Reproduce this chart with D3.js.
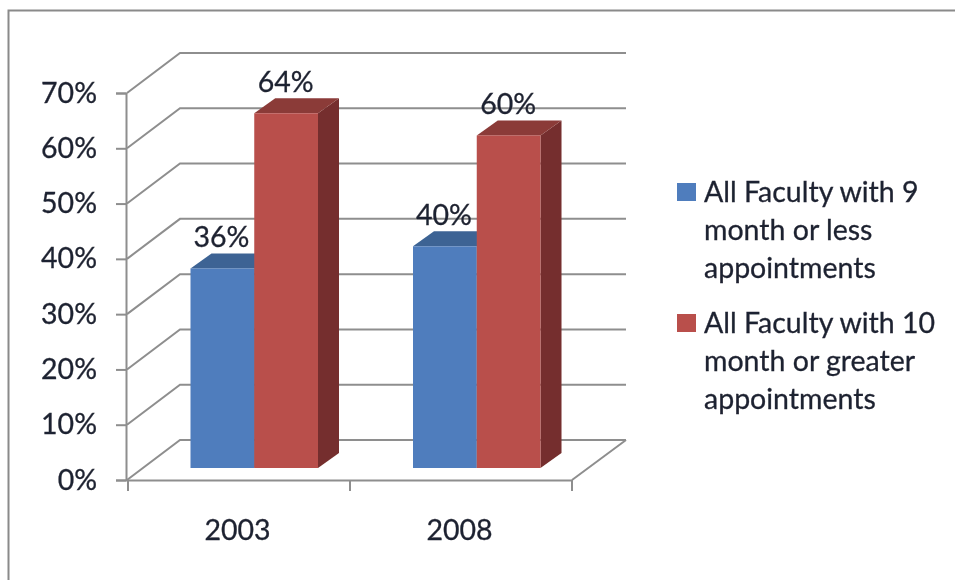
<!DOCTYPE html>
<html>
<head>
<meta charset="utf-8">
<script src="https://cdn.jsdelivr.net/npm/d3@7/dist/d3.min.js"></script>
<style>
html,body{margin:0;padding:0;background:#fff;}
svg{display:block;}
text{font-family:Lato,"Open Sans",sans-serif;fill:#1f2230;stroke:#1f2230;stroke-width:0.3px;}
</style>
</head>
<body>
<div id="chart"></div>
<script>
const categories = ["2003","2008"];
const seriesNames = ["All Faculty with 9 month or less appointments","All Faculty with 10 month or greater appointments"];
const series9Month = [36,40];
const series10Month = [64,60];
const yTicks = [0,10,20,30,40,50,60,70];
const legendLines = [["All Faculty with 9","month or less","appointments"],["All Faculty with 10","month or greater","appointments"]];

const frontColors = ["#4f7dbd","#b9504c"];
const topColors = ["#3d6494","#8b3b38"];
const sideColors = ["#34557f","#752f2d"];
const gridColor = "#8e8e8e";
const fontSize = 28.5;
const depth = {dx:53,dy:-40};      // wall depth
const barDepth = {dx:21,dy:-15};   // bar depth

const svg = d3.select("#chart").append("svg").attr("width",955).attr("height",580);
svg.append("defs").append("filter").attr("id","soft")
  .attr("x",0).attr("y",0).attr("width",1).attr("height",1)
  .attr("filterUnits","userSpaceOnUse").attr("width",955).attr("height",580)
  .append("feGaussianBlur").attr("stdDeviation",0.55);
const root = svg.append("g").attr("filter","url(#soft)");

// frame
root.append("path").attr("d","M8.5,580V10.5H955").attr("fill","none").attr("stroke","#8a8a8a").attr("stroke-width",2);

const axisY = d3.scaleLinear().domain([0,70]).range([480,93]);
const barY = d3.scaleLinear().domain([0,70]).range([468,80]);
const axisX = d3.scaleBand().domain(categories).range([128,572]);
const barX = d3.scaleBand().domain(categories).range([129,574]).paddingInner(0).paddingOuter(0);
const groupWidth = 127.5;
const inner = d3.scaleBand().domain([0,1]).range([0,groupWidth]);
const barLeft = c => barX(c)+barX.bandwidth()/2-groupWidth/2+14;

// walls and gridlines
const grid = root.append("g").attr("fill","none").attr("stroke",gridColor).attr("stroke-width",2);
grid.selectAll(".wall").data(yTicks).join("path").attr("class","wall")
  .attr("d",t=>`M127,${axisY(t)}L${127+depth.dx},${axisY(t)+depth.dy}H626`);
grid.append("path").attr("d",`M572,480L626,440`);

// y axis
const gy = root.append("g").attr("transform","translate(126,0)")
  .call(d3.axisLeft(axisY).tickValues(yTicks).tickSize(10).tickPadding(19).tickFormat(d=>d+"%"));
gy.select(".domain").attr("stroke",gridColor).attr("stroke-width",2);
gy.selectAll(".tick line").attr("stroke",gridColor).attr("stroke-width",2);
gy.selectAll("text").attr("font-size",fontSize).style("font-family","Lato").attr("fill","#1f2230").attr("dy","0.32em");

// x axis
const gx = root.append("g").attr("transform","translate(0,480)")
  .call(d3.axisBottom(axisX).tickValues([]).tickSizeOuter(0));
gx.select(".domain").attr("stroke",gridColor).attr("stroke-width",2);
const edges = [...categories.map(c=>axisX(c)),axisX.range()[1]];
gx.selectAll(".edge").data(edges).join("line").attr("class","edge")
  .attr("x1",d=>d).attr("x2",d=>d).attr("y1",0).attr("y2",11)
  .attr("stroke",gridColor).attr("stroke-width",2);
gx.selectAll(".cat").data(categories).join("text").attr("class","cat")
  .attr("x",c=>axisX(c)+axisX.bandwidth()/2-1.5).attr("y",60).attr("text-anchor","middle")
  .attr("font-size",fontSize).text(d=>d);

// bars
const allSeries = [series9Month,series10Month];
allSeries.forEach((vals,s)=>{
  const g = root.append("g").attr("class","series"+s);
  categories.forEach((c,i)=>{
    const x0 = barLeft(c)+inner(s), x1 = x0+inner.bandwidth();
    const y0 = barY(0), y1 = barY(vals[i]);
    const {dx,dy} = barDepth;
    g.append("path").attr("fill",sideColors[s])
      .attr("d",`M${x1},${y0}L${x1+dx},${y0+dy}V${y1+dy}L${x1},${y1}Z`);
    g.append("path").attr("fill",topColors[s])
      .attr("d",`M${x0},${y1}L${x0+dx},${y1+dy}H${x1+dx}L${x1},${y1}Z`);
    g.append("rect").attr("x",x0).attr("y",y1).attr("width",x1-x0).attr("height",y0-y1).attr("fill",frontColors[s]);
  });
});

// data labels
allSeries.forEach((vals,s)=>{
  root.append("g").selectAll("text").data(vals).join("text")
    .attr("x",(v,i)=>barLeft(categories[i])+inner(s)+inner.bandwidth()/2+(s===0?-1:-0.5))
    .attr("y",v=>barY(v)-21)
    .attr("text-anchor","middle").attr("font-size",fontSize).text(v=>v+"%");
});

// legend
const legendX = 677, legendBase = [202,333], lineH = 38;
const lg = root.append("g");
legendLines.forEach((lines,s)=>{
  lg.append("rect").attr("x",legendX).attr("y",legendBase[s]-19).attr("width",19).attr("height",18).attr("fill",frontColors[s]);
  lg.append("text").attr("font-size",fontSize).selectAll("tspan").data(lines).join("tspan")
    .attr("x",704).attr("y",(d,i)=>legendBase[s]+i*lineH).text(d=>d);
});
</script>
</body>
</html>
